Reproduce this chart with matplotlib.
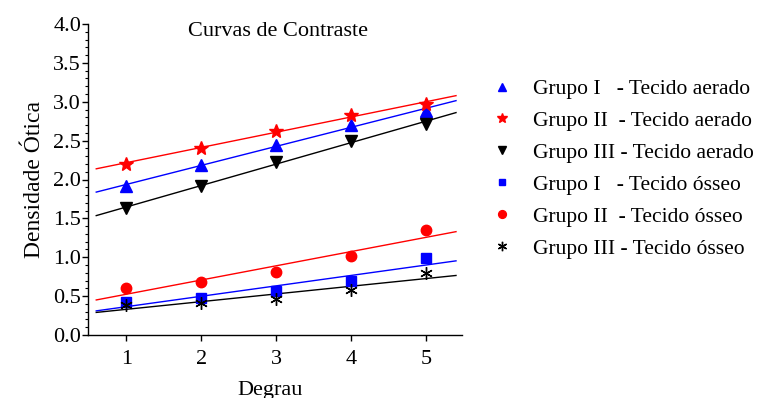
import numpy as np
import matplotlib
matplotlib.use("Agg")
import matplotlib.pyplot as plt
from matplotlib.ticker import MultipleLocator

plt.rcParams['font.family'] = ['Liberation Serif', 'DejaVu Serif']

degrau = [1, 2, 3, 4, 5]

# Tecido aerado
g1_aerado = [1.91, 2.19, 2.45, 2.70, 2.88]
g2_aerado = [2.20, 2.41, 2.63, 2.83, 2.97]
g3_aerado = [1.63, 1.92, 2.22, 2.50, 2.72]

# Tecido osseo
g1_osseo = [0.43, 0.48, 0.56, 0.70, 0.99]
g2_osseo = [0.60, 0.68, 0.81, 1.01, 1.35]
g3_osseo = [0.39, 0.41, 0.46, 0.58, 0.80]

labels = [
    "Grupo I   - Tecido aerado",
    "Grupo II  - Tecido aerado",
    "Grupo III - Tecido aerado",
    "Grupo I   - Tecido ósseo",
    "Grupo II  - Tecido ósseo",
    "Grupo III - Tecido ósseo",
]

series = [g1_aerado, g2_aerado, g3_aerado, g1_osseo, g2_osseo, g3_osseo]
colors = ['#0000ff', '#ff0000', '#000000', '#0000ff', '#ff0000', '#000000']
markers = ['^', '*', 'v', 's', 'o', (6, 2, 0)]
msizes = [8, 10, 8, 6.5, 7.5, 9]

fig = plt.figure(figsize=(7.59, 3.98), dpi=100)
ax = fig.add_axes([88 / 759, 63 / 398, 374 / 759, 311 / 398])

x = np.array(degrau, dtype=float)
xfit = np.array([0.6, 5.4])
handles = []
for ys, c, m, ms, lab in zip(series, colors, markers, msizes, labels):
    k, b = np.polyfit(x, ys, 1)
    ax.plot(xfit, k * xfit + b, color=c, lw=1.0, zorder=2)
    h, = ax.plot(x, ys, linestyle='none', marker=m, color=c, markersize=ms,
                 markeredgewidth=1.0, zorder=3, label=lab)
    handles.append(h)

ax.set_xlim(0.49, 5.48)
ax.set_ylim(0, 4.0)
ax.xaxis.set_major_locator(MultipleLocator(1))
ax.yaxis.set_major_locator(MultipleLocator(0.5))
ax.yaxis.set_minor_locator(MultipleLocator(0.1))
ax.yaxis.set_major_formatter(matplotlib.ticker.FormatStrFormatter('%.1f'))

for s in ['top', 'right']:
    ax.spines[s].set_visible(False)
for s in ['left', 'bottom']:
    ax.spines[s].set_linewidth(1.0)

ax.tick_params(axis='both', which='major', direction='out', length=4, width=1.0,
               labelsize=16, pad=1)
ax.tick_params(axis='x', which='major', pad=7)
ax.tick_params(axis='y', which='minor', direction='out', length=2.5, width=0.8)

ax.set_ylabel("Densidade Ótica", fontsize=17, labelpad=6)
ax.set_xlabel("Degrau", fontsize=16)
ax.xaxis.set_label_coords((270 - 88) / 374, -46 / 311)
fig.text(278 / 759, 1 - 32 / 398, "Curvas de Contraste", fontsize=16,
         ha='center', va='center')

leg = fig.legend(handles=handles, loc='upper left',
                 bbox_to_anchor=(491 / 759, 1 - 79 / 398),
                 frameon=False, fontsize=15.5, handlelength=1.0,
                 handletextpad=0.95, labelspacing=0.55, markerscale=0.75,
                 borderaxespad=0, borderpad=0)

fig.savefig("out.png", dpi=100)
